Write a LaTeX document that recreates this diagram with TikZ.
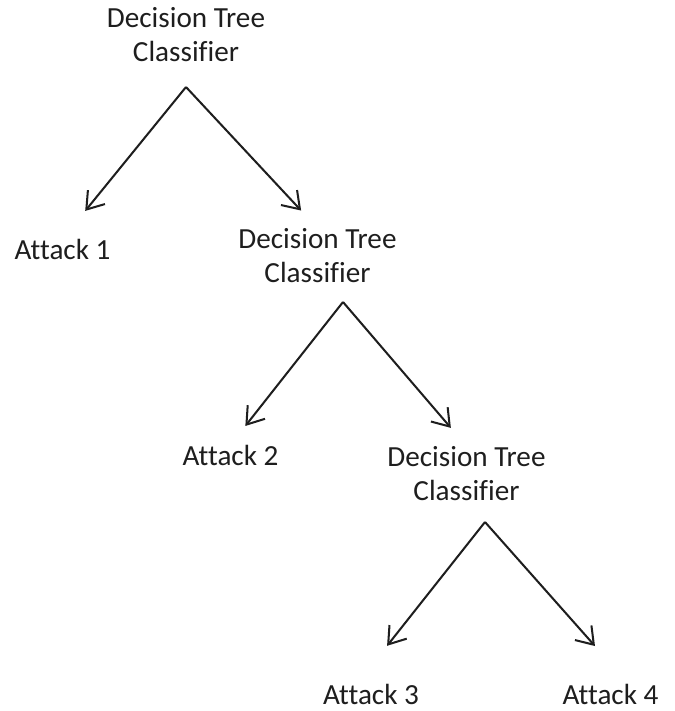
\documentclass[tikz,border=0pt]{standalone}
\usepackage{fontspec}
\setmainfont{Carlito}[Ligatures={NoCommon}]
\usetikzlibrary{arrows.meta,positioning,calc}
\definecolor{ink}{HTML}{1E1E1E}

\begin{document}
\begin{tikzpicture}[
  label/.style={anchor=south,inner sep=0pt,align=center,text=ink,
    font=\fontsize{16.6}{19.3}\selectfont},
  branch/.style={-{Straight Barb[length=3.2mm,width=4.4mm]},line width=1.15pt,draw=ink,shorten >=0.48cm}]
\useasboundingbox (0,0) rectangle (13.5,-14.22);
% classifiers
\node[label] (dt1) at (3.72,-1.24) {Decision Tree\\Classifier};
\node[label] (dt2) at (6.35,-5.66) {Decision Tree\\Classifier};
\node[label] (dt3) at (9.33,-10.02) {Decision Tree\\Classifier};
% leaves
\node[label] (att1) at (1.25,-5.20) {Attack 1};
\node[label] (att2) at (4.61,-9.32) {Attack 2};
\node[label] (att3) at (7.42,-14.10) {Attack 3};
\node[label] (att4) at (12.21,-14.10) {Attack 4};
% split points
\coordinate (s1) at ([yshift=-0.50cm]dt1.south);
\coordinate (s2) at ([xshift=0.51cm,yshift=-0.38cm]dt2.south);
\coordinate (s3) at ([xshift=0.37cm,yshift=-0.42cm]dt3.south);
\draw[branch,shorten >=0.72cm] (s1)--(att1.north);
\draw[branch] (s1)--(dt2.north);
\draw[branch] (s2)--(att2.north);
\draw[branch] (s2)--(dt3.north);
\draw[branch,shorten >=0.97cm] (s3)--([xshift=-0.28cm]att3.north);
\draw[branch,shorten >=1.01cm] (s3)--([xshift=0.36cm]att4.north);
\end{tikzpicture}
\end{document}
